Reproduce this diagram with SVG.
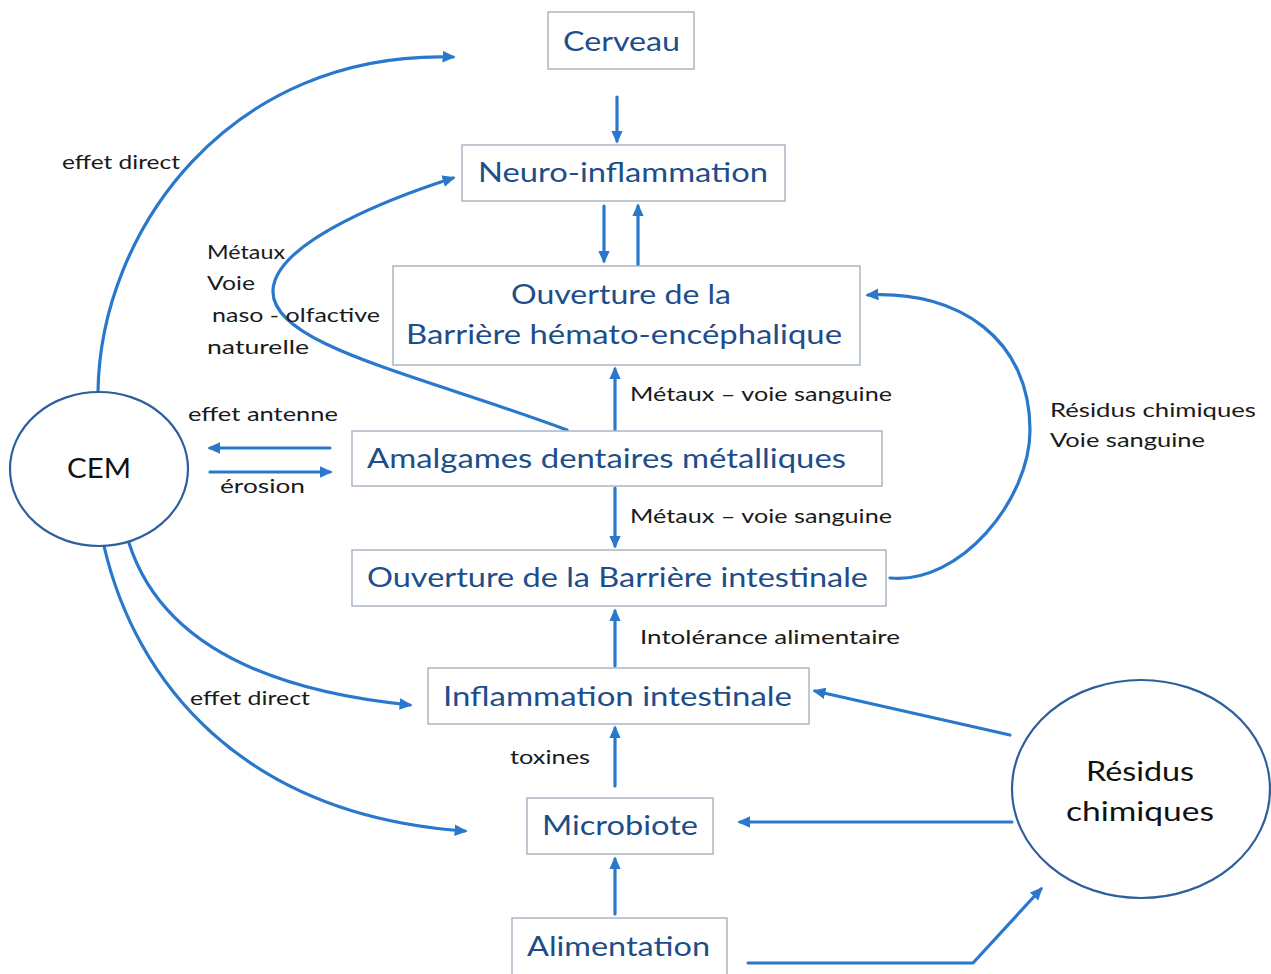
<svg xmlns="http://www.w3.org/2000/svg" width="1271" height="974" viewBox="0 0 1271 974">
<style>
.box{fill:#fff;stroke:#aab6c4;stroke-width:1.5}
.circ{fill:#fff;stroke:#2c5f9c;stroke-width:2.2}
.nt{font-family:Lato,"Open Sans","Liberation Sans",sans-serif;font-size:27px;fill:#1d4e8a}
.ct{font-family:Lato,"Open Sans","Liberation Sans",sans-serif;font-size:27px;fill:#111}
.lb{font-family:Lato,"Open Sans","Liberation Sans",sans-serif;font-size:19px;fill:#1a1a1a}
.cn{fill:none;stroke:#2a78cc;stroke-width:3.2;stroke-linecap:round;stroke-linejoin:round;marker-end:url(#ah)}
</style>
<defs>
<marker id="ah" viewBox="0 0 10 10" refX="8" refY="5" markerWidth="13" markerHeight="13" markerUnits="userSpaceOnUse" orient="auto">
<path d="M0,0.5 L10,5 L0,9.5 z" fill="#2a78cc"/>
</marker>
</defs>
<rect width="1271" height="974" fill="#fff"/>

<g id="connectors">
<path class="cn" d="M617,97 L617,141"/>
<path class="cn" d="M604,206 L604,261"/>
<path class="cn" d="M638,265 L638,206"/>
<path class="cn" d="M615,430 L615,369"/>
<path class="cn" d="M615,488 L615,546"/>
<path class="cn" d="M615,666 L615,611"/>
<path class="cn" d="M615,786 L615,728"/>
<path class="cn" d="M615,914 L615,859"/>
<path class="cn" d="M98,392 C100,230 230,50 453,57"/>
<path class="cn" d="M567,430 C420,375 270,345 273,290 C276,240 400,195 453,178"/>
<path class="cn" d="M330,448 L210,448"/>
<path class="cn" d="M210,472 L330,472"/>
<path class="cn" d="M129,543 C160,640 260,690 410,705"/>
<path class="cn" d="M104,546 C135,680 240,815 465,831"/>
<path class="cn" d="M890,578 C960,585 1030,500 1030,430 C1030,340 960,290 868,295"/>
<path class="cn" d="M1010,735 L815,691"/>
<path class="cn" d="M1012,822 L740,822"/>
<path class="cn" d="M748,963 L973,963 L1041,889"/>
</g>

<g id="cerveau"><rect class="box" x="548" y="12" width="146" height="57"/><text class="nt" x="563" y="51" textLength="117" lengthAdjust="spacingAndGlyphs">Cerveau</text></g>
<g id="neuro"><rect class="box" x="462" y="145" width="323" height="56"/><text class="nt" x="478" y="182" textLength="290" lengthAdjust="spacingAndGlyphs">Neuro-inflammation</text></g>
<g id="bhe"><rect class="box" x="393" y="266" width="467" height="99"/><text class="nt" x="511" y="304" textLength="220" lengthAdjust="spacingAndGlyphs">Ouverture de la</text><text class="nt" x="406" y="344" textLength="436" lengthAdjust="spacingAndGlyphs">Barrière hémato-encéphalique</text></g>
<g id="amalgames"><rect class="box" x="352" y="431" width="530" height="55"/><text class="nt" x="367" y="468" textLength="479" lengthAdjust="spacingAndGlyphs">Amalgames dentaires métalliques</text></g>
<g id="barriere-intestinale"><rect class="box" x="352" y="550" width="534" height="56"/><text class="nt" x="367" y="587" textLength="501" lengthAdjust="spacingAndGlyphs">Ouverture de la Barrière intestinale</text></g>
<g id="inflammation-intestinale"><rect class="box" x="428" y="668" width="381" height="56"/><text class="nt" x="443" y="706" textLength="349" lengthAdjust="spacingAndGlyphs">Inflammation intestinale</text></g>
<g id="microbiote"><rect class="box" x="527" y="798" width="186" height="56"/><text class="nt" x="542" y="835" textLength="156" lengthAdjust="spacingAndGlyphs">Microbiote</text></g>
<g id="alimentation"><rect class="box" x="512" y="918" width="215" height="60"/><text class="nt" x="527" y="956" textLength="183" lengthAdjust="spacingAndGlyphs">Alimentation</text></g>
<g id="cem"><ellipse class="circ" cx="99" cy="469" rx="89" ry="77"/><text class="ct" x="67" y="478" textLength="64" lengthAdjust="spacingAndGlyphs">CEM</text></g>
<g id="residus"><ellipse class="circ" cx="1141" cy="789" rx="129" ry="109"/><text class="ct" x="1086" y="781" textLength="108" lengthAdjust="spacingAndGlyphs">Résidus</text><text class="ct" x="1066" y="821" textLength="148" lengthAdjust="spacingAndGlyphs">chimiques</text></g>

<g id="labels">
<text class="lb" x="62" y="169" textLength="118" lengthAdjust="spacingAndGlyphs">effet direct</text>
<text class="lb" x="207" y="259" textLength="78" lengthAdjust="spacingAndGlyphs">Métaux</text>
<text class="lb" x="207" y="290" textLength="48" lengthAdjust="spacingAndGlyphs">Voie</text>
<text class="lb" x="212" y="322" textLength="168" lengthAdjust="spacingAndGlyphs">naso - olfactive</text>
<text class="lb" x="207" y="354" textLength="102" lengthAdjust="spacingAndGlyphs">naturelle</text>
<text class="lb" x="188" y="421" textLength="150" lengthAdjust="spacingAndGlyphs">effet antenne</text>
<text class="lb" x="220" y="493" textLength="85" lengthAdjust="spacingAndGlyphs">érosion</text>
<text class="lb" x="630" y="401" textLength="262" lengthAdjust="spacingAndGlyphs">Métaux – voie sanguine</text>
<text class="lb" x="630" y="523" textLength="262" lengthAdjust="spacingAndGlyphs">Métaux – voie sanguine</text>
<text class="lb" x="1050" y="417" textLength="206" lengthAdjust="spacingAndGlyphs">Résidus chimiques</text>
<text class="lb" x="1050" y="447" textLength="155" lengthAdjust="spacingAndGlyphs">Voie sanguine</text>
<text class="lb" x="640" y="644" textLength="260" lengthAdjust="spacingAndGlyphs">Intolérance alimentaire</text>
<text class="lb" x="190" y="705" textLength="120" lengthAdjust="spacingAndGlyphs">effet direct</text>
<text class="lb" x="510" y="764" textLength="80" lengthAdjust="spacingAndGlyphs">toxines</text>
</g>
</svg>
